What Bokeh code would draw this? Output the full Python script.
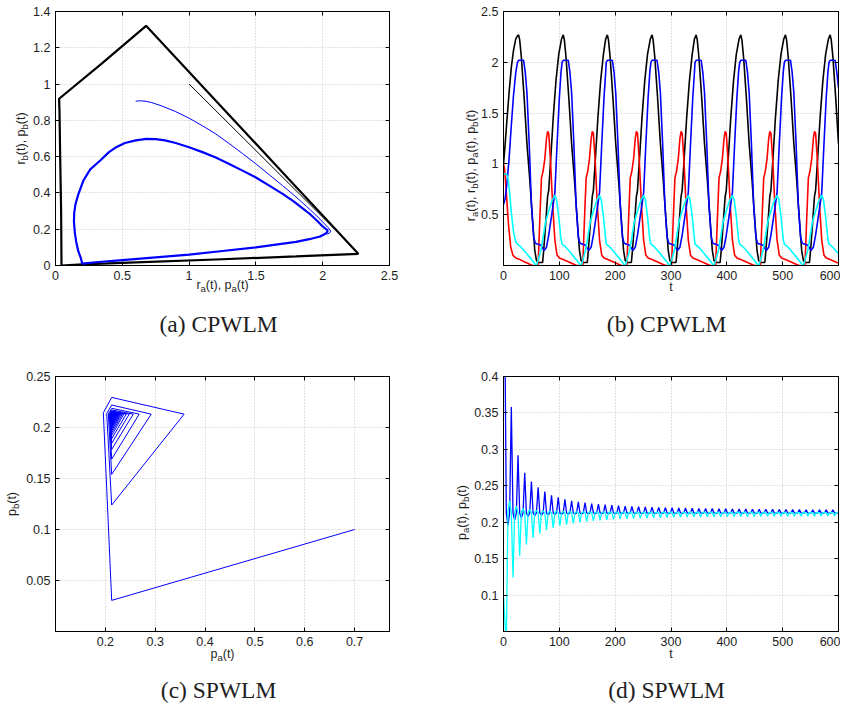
import math
from bokeh.plotting import figure
from bokeh.layouts import column, row
from bokeh.models import Range1d, FixedTicker, LinearAxis, CustomJSTickFormatter, ColumnDataSource
from bokeh.embed import file_html
from bokeh.resources import INLINE

# ---------------- (a) CPWLM phase plane ----------------
ra_tr = [1.0, 2.2, 2.268]
rb_tr = [1.0, 0.12, 0.064]
ra_cyc = [2.268, 1.8, 1.2, 0.6, 0.2, 0.045, 0.042, 0.035, 0.03, 0.027, 0.35, 0.678, 1.2, 1.7, 2.0, 2.268]
rb_cyc = [0.064, 0.05, 0.033, 0.017, 0.006, 0.0, 0.3, 0.6, 0.85, 0.919, 1.115, 1.321, 0.908, 0.513, 0.276, 0.064]
pa_tr = [0.6, 0.63, 0.67, 0.72, 0.8, 0.9, 1.0, 1.1, 1.2, 1.3, 1.4, 1.5, 1.6, 1.7, 1.8, 1.88, 1.95, 2.0, 2.04, 2.06, 2.05, 2.03]
pb_tr = [0.905, 0.908, 0.906, 0.898, 0.878, 0.848, 0.812, 0.77, 0.725, 0.672, 0.617, 0.56, 0.5, 0.44, 0.378, 0.325,
         0.277, 0.24, 0.21, 0.19, 0.178, 0.172]
pa_cyc = [2.04, 2.02, 1.98, 1.9, 1.8, 1.65, 1.5, 1.25, 1.0, 0.75, 0.5, 0.3, 0.22, 0.2, 0.19, 0.17, 0.155, 0.145,
          0.138, 0.14, 0.15, 0.17, 0.21, 0.26, 0.337, 0.4, 0.45, 0.52, 0.6, 0.68, 0.75, 0.82, 0.9, 1.0, 1.1,
          1.2, 1.3, 1.4, 1.5, 1.6, 1.7, 1.78, 1.85, 1.91, 1.96, 2.0, 2.03, 2.04]
pb_cyc = [0.19, 0.175, 0.16, 0.145, 0.13, 0.115, 0.1, 0.08, 0.06, 0.045, 0.03, 0.018, 0.012, 0.01, 0.04, 0.08,
          0.13, 0.18, 0.24, 0.29, 0.34, 0.39, 0.47, 0.53, 0.58, 0.625, 0.65, 0.675, 0.69, 0.698, 0.697, 0.69,
          0.675, 0.652, 0.625, 0.595, 0.56, 0.523, 0.485, 0.44, 0.395, 0.355, 0.315, 0.28, 0.245, 0.215, 0.198, 0.19]

# ---------------- (b) CPWLM time series ----------------
ra_t = [0, 3, 6, 10, 14, 18, 22, 25,
        27, 29, 32, 37, 42, 47, 52, 56, 59, 62, 70, 72, 76, 79, 81, 84, 89, 94, 99, 104,
        107, 109, 112, 117, 122, 127, 132, 136, 139, 142, 150, 152, 156, 159, 161, 164, 169, 174, 179, 183,
        186, 188, 191, 196, 201, 206, 211, 215, 218, 221, 229, 231, 235, 238, 240, 243, 248, 253, 258, 263,
        266, 268, 271, 276, 281, 286, 291, 295, 298, 301, 309, 311, 315, 318, 320, 323, 328, 333, 338, 342,
        345, 347, 350, 355, 360, 365, 370, 374, 377, 380, 388, 390, 394, 397, 399, 402, 407, 412, 417, 422,
        425, 427, 430, 435, 440, 445, 450, 454, 457, 460, 468, 470, 474, 477, 479, 482, 487, 492, 497, 502,
        505, 507, 510, 515, 520, 525, 530, 534, 537, 540, 548, 550, 554, 557, 559, 562, 567, 572, 577, 582,
        585, 587, 590, 595, 600]
ra_v = [1.0, 1.2, 1.42, 1.7, 1.95, 2.12, 2.23, 2.26,
        2.27, 2.22, 2.05, 1.65, 1.2, 0.85, 0.45, 0.15, 0.05, 0.03, 0.03, 0.15, 0.45, 0.68, 0.74, 1.0, 1.45, 1.82, 2.08, 2.23,
        2.27, 2.22, 2.05, 1.65, 1.2, 0.85, 0.45, 0.15, 0.05, 0.03, 0.03, 0.15, 0.45, 0.68, 0.74, 1.0, 1.45, 1.82, 2.08, 2.23,
        2.27, 2.22, 2.05, 1.65, 1.2, 0.85, 0.45, 0.15, 0.05, 0.03, 0.03, 0.15, 0.45, 0.68, 0.74, 1.0, 1.45, 1.82, 2.08, 2.23,
        2.27, 2.22, 2.05, 1.65, 1.2, 0.85, 0.45, 0.15, 0.05, 0.03, 0.03, 0.15, 0.45, 0.68, 0.74, 1.0, 1.45, 1.82, 2.08, 2.23,
        2.27, 2.22, 2.05, 1.65, 1.2, 0.85, 0.45, 0.15, 0.05, 0.03, 0.03, 0.15, 0.45, 0.68, 0.74, 1.0, 1.45, 1.82, 2.08, 2.23,
        2.27, 2.22, 2.05, 1.65, 1.2, 0.85, 0.45, 0.15, 0.05, 0.03, 0.03, 0.15, 0.45, 0.68, 0.74, 1.0, 1.45, 1.82, 2.08, 2.23,
        2.27, 2.22, 2.05, 1.65, 1.2, 0.85, 0.45, 0.15, 0.05, 0.03, 0.03, 0.15, 0.45, 0.68, 0.74, 1.0, 1.45, 1.82, 2.08, 2.23,
        2.27, 2.22, 2.05, 1.65, 1.2]

rb_t = [0, 2, 5, 9, 13, 17, 22, 27, 40, 52,
        62, 65, 68, 71, 74, 77, 79, 81, 84, 88, 92, 96, 100, 107, 119, 131,
        142, 145, 148, 151, 154, 157, 159, 161, 164, 168, 172, 176, 180, 187, 199, 211,
        221, 224, 227, 230, 233, 236, 238, 240, 243, 247, 251, 255, 259, 266, 278, 290,
        301, 304, 307, 310, 313, 316, 318, 320, 323, 327, 331, 335, 339, 346, 358, 370,
        380, 383, 386, 389, 392, 395, 397, 399, 402, 406, 410, 414, 418, 425, 437, 449,
        460, 463, 466, 469, 472, 475, 477, 479, 482, 486, 490, 494, 498, 505, 517, 529,
        540, 543, 546, 549, 552, 555, 557, 559, 562, 566, 570, 574, 578, 585, 597, 600]
rb_v = [1.0, 0.95, 0.72, 0.4, 0.18, 0.1, 0.075, 0.065, 0.03, 0.0,
        0.0, 0.45, 0.86, 0.93, 1.05, 1.25, 1.32, 1.3, 1.05, 0.6, 0.25, 0.1, 0.075, 0.06, 0.03, 0.0,
        0.0, 0.45, 0.86, 0.93, 1.05, 1.25, 1.32, 1.3, 1.05, 0.6, 0.25, 0.1, 0.075, 0.06, 0.03, 0.0,
        0.0, 0.45, 0.86, 0.93, 1.05, 1.25, 1.32, 1.3, 1.05, 0.6, 0.25, 0.1, 0.075, 0.06, 0.03, 0.0,
        0.0, 0.45, 0.86, 0.93, 1.05, 1.25, 1.32, 1.3, 1.05, 0.6, 0.25, 0.1, 0.075, 0.06, 0.03, 0.0,
        0.0, 0.45, 0.86, 0.93, 1.05, 1.25, 1.32, 1.3, 1.05, 0.6, 0.25, 0.1, 0.075, 0.06, 0.03, 0.0,
        0.0, 0.45, 0.86, 0.93, 1.05, 1.25, 1.32, 1.3, 1.05, 0.6, 0.25, 0.1, 0.075, 0.06, 0.03, 0.0,
        0.0, 0.45, 0.86, 0.93, 1.05, 1.25, 1.32, 1.3, 1.05, 0.6, 0.25, 0.1, 0.075, 0.06, 0.03, 0.025]

pa_t = [0, 3, 6, 10, 14, 18, 22, 25,
        27, 36, 39, 42, 46, 50, 54, 57, 67, 70, 73, 77, 81, 85, 89, 92, 96, 100, 103, 105,
        107, 116, 119, 122, 126, 130, 134, 137, 147, 150, 153, 157, 161, 165, 169, 172, 176, 180, 183, 184,
        186, 195, 198, 201, 205, 209, 213, 216, 226, 229, 232, 236, 240, 244, 248, 251, 255, 259, 262, 264,
        266, 275, 278, 281, 285, 289, 293, 296, 306, 309, 312, 316, 320, 324, 328, 331, 335, 339, 342, 343,
        345, 354, 357, 360, 364, 368, 372, 375, 385, 388, 391, 395, 399, 403, 407, 410, 414, 418, 421, 423,
        425, 434, 437, 440, 444, 448, 452, 455, 465, 468, 471, 475, 479, 483, 487, 490, 494, 498, 501, 503,
        505, 514, 517, 520, 524, 528, 532, 535, 545, 548, 551, 555, 559, 563, 567, 570, 574, 578, 581, 583,
        585, 594, 597, 600]
pa_v = [0.6, 0.66, 0.8, 1.05, 1.38, 1.68, 1.9, 2.0,
        2.02, 2.02, 1.9, 1.7, 1.2, 0.6, 0.28, 0.22, 0.2, 0.17, 0.15, 0.18, 0.3, 0.45, 0.6, 0.72, 1.2, 1.65, 1.9, 2.0,
        2.02, 2.02, 1.9, 1.7, 1.2, 0.6, 0.28, 0.22, 0.2, 0.17, 0.15, 0.18, 0.3, 0.45, 0.6, 0.72, 1.2, 1.65, 1.9, 2.0,
        2.02, 2.02, 1.9, 1.7, 1.2, 0.6, 0.28, 0.22, 0.2, 0.17, 0.15, 0.18, 0.3, 0.45, 0.6, 0.72, 1.2, 1.65, 1.9, 2.0,
        2.02, 2.02, 1.9, 1.7, 1.2, 0.6, 0.28, 0.22, 0.2, 0.17, 0.15, 0.18, 0.3, 0.45, 0.6, 0.72, 1.2, 1.65, 1.9, 2.0,
        2.02, 2.02, 1.9, 1.7, 1.2, 0.6, 0.28, 0.22, 0.2, 0.17, 0.15, 0.18, 0.3, 0.45, 0.6, 0.72, 1.2, 1.65, 1.9, 2.0,
        2.02, 2.02, 1.9, 1.7, 1.2, 0.6, 0.28, 0.22, 0.2, 0.17, 0.15, 0.18, 0.3, 0.45, 0.6, 0.72, 1.2, 1.65, 1.9, 2.0,
        2.02, 2.02, 1.9, 1.7, 1.2, 0.6, 0.28, 0.22, 0.2, 0.17, 0.15, 0.18, 0.3, 0.45, 0.6, 0.72, 1.2, 1.65, 1.9, 2.0,
        2.02, 2.02, 1.9, 1.75]

pb_t = [0, 5, 8, 11, 14, 18, 22,
        27, 30, 35, 41, 47, 53, 57, 59, 62, 67, 71, 75, 79, 83, 87, 92, 95, 99, 103, 105,
        107, 110, 115, 121, 127, 133, 137, 139, 142, 147, 151, 155, 159, 163, 167, 172, 175, 179, 183, 184,
        186, 189, 194, 200, 206, 212, 216, 218, 221, 226, 230, 234, 238, 242, 246, 251, 254, 258, 262, 264,
        266, 269, 274, 280, 286, 292, 296, 298, 301, 306, 310, 314, 318, 322, 326, 331, 334, 338, 342, 343,
        345, 348, 353, 359, 365, 371, 375, 377, 380, 385, 389, 393, 397, 401, 405, 410, 413, 417, 421, 423,
        425, 428, 433, 439, 445, 451, 455, 457, 460, 465, 469, 473, 477, 481, 485, 490, 493, 497, 501, 503,
        505, 508, 513, 519, 525, 531, 535, 537, 540, 545, 549, 553, 557, 561, 565, 570, 573, 577, 581, 583,
        585, 588, 593, 599, 600]
pb_v = [0.9, 0.9, 0.86, 0.72, 0.52, 0.33, 0.23,
        0.2, 0.19, 0.16, 0.12, 0.08, 0.04, 0.01, 0.0, 0.05, 0.15, 0.28, 0.42, 0.5, 0.57, 0.64, 0.69, 0.65, 0.48, 0.26, 0.21,
        0.2, 0.19, 0.16, 0.12, 0.08, 0.04, 0.01, 0.0, 0.05, 0.15, 0.28, 0.42, 0.5, 0.57, 0.64, 0.69, 0.65, 0.48, 0.26, 0.21,
        0.2, 0.19, 0.16, 0.12, 0.08, 0.04, 0.01, 0.0, 0.05, 0.15, 0.28, 0.42, 0.5, 0.57, 0.64, 0.69, 0.65, 0.48, 0.26, 0.21,
        0.2, 0.19, 0.16, 0.12, 0.08, 0.04, 0.01, 0.0, 0.05, 0.15, 0.28, 0.42, 0.5, 0.57, 0.64, 0.69, 0.65, 0.48, 0.26, 0.21,
        0.2, 0.19, 0.16, 0.12, 0.08, 0.04, 0.01, 0.0, 0.05, 0.15, 0.28, 0.42, 0.5, 0.57, 0.64, 0.69, 0.65, 0.48, 0.26, 0.21,
        0.2, 0.19, 0.16, 0.12, 0.08, 0.04, 0.01, 0.0, 0.05, 0.15, 0.28, 0.42, 0.5, 0.57, 0.64, 0.69, 0.65, 0.48, 0.26, 0.21,
        0.2, 0.19, 0.16, 0.12, 0.08, 0.04, 0.01, 0.0, 0.05, 0.15, 0.28, 0.42, 0.5, 0.57, 0.64, 0.69, 0.65, 0.48, 0.26, 0.21,
        0.2, 0.19, 0.16, 0.12, 0.115]

# ---------------- (c)/(d) SPWLM sampled trajectory ----------------
s_start = (0.7, 0.1)
sa_bottom = [
    0.2127, 0.2127, 0.2127, 0.2127, 0.2127, 0.2127, 0.2127, 0.2127, 0.2127, 0.2127,
    0.2127, 0.2127, 0.2127, 0.2127, 0.2127, 0.2127, 0.2127, 0.2127, 0.2127, 0.2127,
    0.2127, 0.2127, 0.2127, 0.2127, 0.2127, 0.2127, 0.2127, 0.2127, 0.2127, 0.2127,
    0.2127, 0.2127, 0.2127, 0.2127, 0.2127, 0.2127, 0.2127, 0.2127, 0.2127, 0.2127,
    0.2127, 0.2127, 0.2127, 0.2127, 0.2127, 0.2127, 0.2127, 0.2127, 0.2127, 0.2127]
sa_left = [
    0.196, 0.2028, 0.206, 0.2078, 0.2089, 0.2097, 0.2103, 0.2107, 0.211, 0.2112,
    0.2114, 0.2115, 0.2116, 0.2117, 0.2118, 0.2119, 0.2119, 0.212, 0.212, 0.2121,
    0.2121, 0.2121, 0.2122, 0.2122, 0.2122, 0.2122, 0.2123, 0.2123, 0.2123, 0.2123,
    0.2123, 0.2124, 0.2124, 0.2124, 0.2124, 0.2124, 0.2124, 0.2124, 0.2125, 0.2125,
    0.2125, 0.2125, 0.2125, 0.2125, 0.2125, 0.2125, 0.2125, 0.2125, 0.2125, 0.2125]
sa_top = [
    0.2128, 0.2128, 0.2128, 0.2128, 0.2128, 0.2128, 0.2128, 0.2128, 0.2128, 0.2128,
    0.2128, 0.2128, 0.2128, 0.2128, 0.2128, 0.2128, 0.2128, 0.2128, 0.2128, 0.2128,
    0.2128, 0.2128, 0.2128, 0.2128, 0.2128, 0.2128, 0.2128, 0.2128, 0.2128, 0.2128,
    0.2128, 0.2128, 0.2128, 0.2128, 0.2128, 0.2128, 0.2128, 0.2128, 0.2128, 0.2128,
    0.2128, 0.2128, 0.2128, 0.2128, 0.2128, 0.2128, 0.2128, 0.2128, 0.2128, 0.2128]
sa_right = [
    0.358, 0.292, 0.268, 0.256, 0.248, 0.242, 0.237, 0.234, 0.2315, 0.2295,
    0.228, 0.2268, 0.2257, 0.2248, 0.224, 0.2233, 0.2227, 0.2222, 0.2218, 0.2214,
    0.221, 0.2207, 0.2204, 0.2201, 0.2199, 0.2196, 0.2194, 0.2192, 0.219, 0.2188,
    0.2187, 0.2185, 0.2184, 0.2182, 0.2181, 0.218, 0.2179, 0.2178, 0.2177, 0.2176,
    0.2175, 0.2174, 0.2173, 0.2173, 0.2172, 0.2171, 0.2171, 0.217, 0.217]
sb_bottom = [
    0.0305, 0.124, 0.154, 0.169, 0.1785, 0.1845, 0.189, 0.1922, 0.1948, 0.1968,
    0.1984, 0.1997, 0.2008, 0.2017, 0.2025, 0.2032, 0.2038, 0.2043, 0.2047, 0.2051,
    0.2054, 0.2057, 0.206, 0.2062, 0.2064, 0.2066, 0.2068, 0.207, 0.2071, 0.2072,
    0.2074, 0.2075, 0.2076, 0.2077, 0.2078, 0.2078, 0.2079, 0.208, 0.208, 0.2081,
    0.2081, 0.2082, 0.2082, 0.2083, 0.2083, 0.2084, 0.2084, 0.2085, 0.2085, 0.2085]
sb_left = [
    0.2145, 0.2138, 0.2135, 0.2134, 0.2133, 0.2133, 0.2132, 0.2132, 0.2132, 0.2132,
    0.2132, 0.2132, 0.2132, 0.2132, 0.2132, 0.2132, 0.2132, 0.2132, 0.2132, 0.2132,
    0.2132, 0.2132, 0.2132, 0.2132, 0.2132, 0.2132, 0.2132, 0.2132, 0.2132, 0.2132,
    0.2132, 0.2132, 0.2132, 0.2132, 0.2132, 0.2132, 0.2132, 0.2132, 0.2132, 0.2132,
    0.2132, 0.2132, 0.2132, 0.2132, 0.2132, 0.2132, 0.2132, 0.2132, 0.2132, 0.2132]
sb_top = [
    0.2295, 0.222, 0.2188, 0.2172, 0.2162, 0.2156, 0.2152, 0.2149, 0.2147, 0.2145,
    0.2144, 0.2143, 0.2142, 0.2141, 0.2141, 0.214, 0.214, 0.214, 0.2139, 0.2139,
    0.2139, 0.2139, 0.2139, 0.2138, 0.2138, 0.2138, 0.2138, 0.2138, 0.2138, 0.2138,
    0.2137, 0.2137, 0.2137, 0.2137, 0.2137, 0.2137, 0.2137, 0.2137, 0.2137, 0.2137,
    0.2136, 0.2136, 0.2136, 0.2136, 0.2136, 0.2136, 0.2136, 0.2136, 0.2136, 0.2136]
sb_right = [
    0.2131, 0.2131, 0.2131, 0.2131, 0.2131, 0.2131, 0.2131, 0.2131, 0.2131, 0.2131,
    0.2131, 0.2131, 0.2131, 0.2131, 0.2131, 0.2131, 0.2131, 0.2131, 0.2131, 0.2131,
    0.2131, 0.2131, 0.2131, 0.2131, 0.2131, 0.2131, 0.2131, 0.2131, 0.2131, 0.2131,
    0.2131, 0.2131, 0.2131, 0.2131, 0.2131, 0.2131, 0.2131, 0.2131, 0.2131, 0.2131,
    0.2131, 0.2131, 0.2131, 0.2131, 0.2131, 0.2131, 0.2131, 0.2131, 0.2131]
s_t = [0] + list(range(5, 600, 3))

s_pa = [s_start[0]]
s_pb = [s_start[1]]
for k in range(len(sa_bottom)):
    s_pa += [sa_bottom[k], sa_left[k], sa_top[k]]
    s_pb += [sb_bottom[k], sb_left[k], sb_top[k]]
    if k < len(sa_right):
        s_pa.append(sa_right[k])
        s_pb.append(sb_right[k])

# ---------------- ticks & labels ----------------
ticks_a_x = [0, 0.5, 1, 1.5, 2, 2.5]
ticks_a_y = [0, 0.2, 0.4, 0.6, 0.8, 1, 1.2, 1.4]
ticks_b_x = [0, 100, 200, 300, 400, 500, 600]
ticks_b_y = [0.5, 1, 1.5, 2, 2.5]
ticks_c_x = [0.2, 0.3, 0.4, 0.5, 0.6, 0.7]
ticks_c_y = [0.05, 0.1, 0.15, 0.2, 0.25]
ticks_d_x = [0, 100, 200, 300, 400, 500, 600]
ticks_d_y = [0.1, 0.15, 0.2, 0.25, 0.3, 0.35, 0.4]

captions = ["(a)  CPWLM", "(b)  CPWLM", "(c)  SPWLM", "(d)  SPWLM"]

SANS = "Liberation Sans"
SERIF = "Liberation Serif"
TXT = "#1e1e1e"
ARIAL_W = {'r': 333, 'a': 556, 'b': 556, 'p': 556, '(': 333, ')': 333, 't': 278, ',': 278, ' ': 278}
META = {}


def tw(s, size):
    return sum(ARIAL_W.get(c, 556) for c in s) * size / 1000.0


def make_fig(xr, yr, xt, yt, width, height, bl, br, bt, bb):
    p = figure(width=width, height=height, x_range=Range1d(*xr), y_range=Range1d(*yr),
               output_backend="svg", toolbar_location=None,
               min_border_left=bl, min_border_right=br, min_border_top=bt, min_border_bottom=bb)
    fmt = CustomJSTickFormatter(code="return tick.toString()")
    for ax, tk in ((p.xaxis[0], xt), (p.yaxis[0], yt)):
        ax.ticker = FixedTicker(ticks=tk)
        ax.formatter = fmt
        ax.major_tick_in = 4
        ax.major_tick_out = 0
        ax.minor_tick_line_color = None
        ax.axis_line_color = "black"
        ax.major_tick_line_color = "black"
        ax.major_label_text_font = SANS
        ax.major_label_text_font_size = "12.5px"
        ax.major_label_text_color = TXT
        ax.major_label_standoff = 5
    for loc, tk in (("above", xt), ("right", yt)):
        ax = LinearAxis(ticker=FixedTicker(ticks=tk),
                        formatter=CustomJSTickFormatter(code="return ''"),
                        major_tick_in=4, major_tick_out=0, minor_tick_line_color=None,
                        major_label_text_font_size="0px", major_label_standoff=0,
                        axis_line_color="black", major_tick_line_color="black")
        p.add_layout(ax, loc)
    p.xgrid.grid_line_color = "#c4c4c4"
    p.ygrid.grid_line_color = "#c4c4c4"
    p.xgrid.grid_line_dash = "1 2"
    p.ygrid.grid_line_dash = "1 2"
    p.outline_line_color = "black"
    p.outline_line_width = 1
    p.background_fill_color = "white"
    p.border_fill_color = "white"
    META[p.id] = dict(fw=width - bl - br, fh=height - bt - bb, xr=xr, yr=yr,
                      txt=dict(x=[], y=[], text=[], size=[], angle=[], font=[], align=[]))
    return p


def px2data(p, px, py):
    m = META[p.id]
    (x0, x1), (y0, y1) = m["xr"], m["yr"]
    return x0 + px * (x1 - x0) / m["fw"], y0 + py * (y1 - y0) / m["fh"]


def push(p, x, y, text, size, angle, font, align):
    t = META[p.id]["txt"]
    t["x"].append(x)
    t["y"].append(y)
    t["text"].append(text)
    t["size"].append(size)
    t["angle"].append(angle)
    t["font"].append(font)
    t["align"].append(align)


def add_text(p, segs, xc, yc, angle=False, size=12.5, sub=9.5, drop=3.5):
    """Axis title built from normal and subscript pieces; px from the frame's lower-left corner."""
    widths = [tw(s, sub if sb else size) for s, sb in segs]
    cur = -sum(widths) / 2.0
    for (s, sb), w in zip(segs, widths):
        if not angle:
            x, y = px2data(p, xc + cur, yc - (drop if sb else 0))
        else:
            x, y = px2data(p, xc + (drop if sb else 0), yc + cur)
        push(p, x, y, s, "%.1fpx" % (sub if sb else size), math.pi / 2 if angle else 0.0, SANS, "left")
        cur += w


def add_caption(p, text, xc, yc):
    x, y = px2data(p, xc, yc)
    push(p, x, y, text, "23.5px", 0.0, SERIF, "center")


def flush_text(p):
    src = ColumnDataSource(META[p.id]["txt"])
    p.text(x="x", y="y", text="text", source=src, text_font="font", text_font_size="size",
           angle="angle", text_align="align", text_baseline="alphabetic", text_color=TXT,
           level="overlay")


# (a)
pa = make_fig((0, 2.5), (0, 1.4), ticks_a_x, ticks_a_y, 424, 360, 55, 35, 11, 95)
pa.line(ra_tr, rb_tr, line_color="black", line_width=1)
pa.line(ra_cyc, rb_cyc, line_color="black", line_width=2.2)
pa.line(pa_tr, pb_tr, line_color="#0000ff", line_width=1)
pa.line(pa_cyc, pb_cyc, line_color="#0000ff", line_width=2.2)
add_text(pa, [("r", 0), ("a", 1), ("(t), p", 0), ("a", 1), ("(t)", 0)], 167, -19)
add_text(pa, [("r", 0), ("b", 1), ("(t), p", 0), ("b", 1), ("(t)", 0)], -35, 127, angle=True)
add_caption(pa, captions[0], 166, -58)
flush_text(pa)

# (b)
pb = make_fig((0, 600), (0, 2.5), ticks_b_x, ticks_b_y, 416, 360, 79, 2, 11, 95)
pb.line(ra_t, ra_v, line_color="black", line_width=1.6)
pb.line(rb_t, rb_v, line_color="#ff0000", line_width=1.6)
pb.line(pa_t, pa_v, line_color="#0000ff", line_width=1.6)
pb.line(pb_t, pb_v, line_color="#00ffff", line_width=1.6)
add_text(pb, [("t", 0)], 167.5, -21)
add_text(pb, [("r", 0), ("a", 1), ("(t), r", 0), ("b", 1), ("(t), p", 0), ("a", 1), ("(t), p", 0),
              ("b", 1), ("(t)", 0)], -33, 100, angle=True)
add_caption(pb, captions[1], 166, -58)
flush_text(pb)

# (c)
pc = make_fig((0.1, 0.77), (0, 0.25), ticks_c_x, ticks_c_y, 424, 347, 55, 35, 16, 76)
pc.line(s_pa, s_pb, line_color="#0000ff", line_width=1)
add_text(pc, [("p", 0), ("a", 1), ("(t)", 0)], 167, -22)
add_text(pc, [("p", 0), ("b", 1), ("(t)", 0)], -44, 127.5, angle=True)
add_caption(pc, captions[2], 166, -58)
flush_text(pc)

# (d)
pd = make_fig((0, 600), (0.05, 0.4), ticks_d_x, ticks_d_y, 416, 347, 79, 2, 16, 76)
pd.line(s_t, s_pa, line_color="#0000ff", line_width=1.3)
pd.line(s_t, s_pb, line_color="#00ffff", line_width=1.3)
add_text(pd, [("t", 0)], 167.5, -22)
add_text(pd, [("p", 0), ("a", 1), ("(t), p", 0), ("b", 1), ("(t)", 0)], -42, 119, angle=True)
add_caption(pd, captions[3], 166, -58)
flush_text(pd)

layout = column(row(pa, pb), row(pc, pd))
open("out.html", "w").write(file_html(layout, INLINE))
